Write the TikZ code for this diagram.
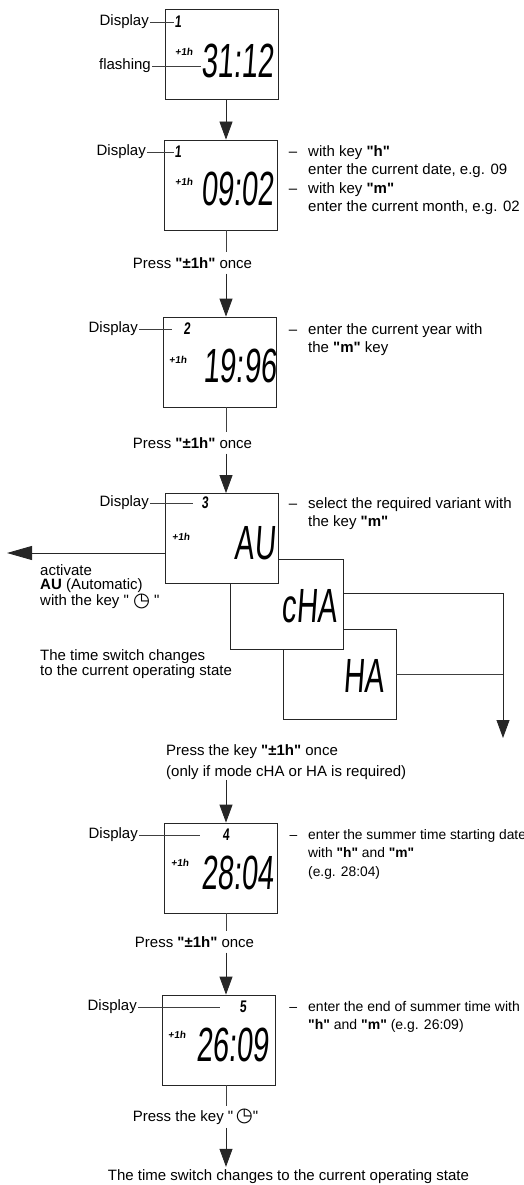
\documentclass[tikz,border=0pt]{standalone}
\usepackage{fontspec}
\usepackage{graphicx}
\setmainfont{Liberation Sans}[Ligatures=TeXOff]
\newfontfamily\lcdfont[FakeSlant=0.12, Ligatures=TeXOff]{Liberation Sans}
\newfontfamily\symfont{DejaVu Sans}
\usetikzlibrary{arrows.meta, positioning, calc}
\newcommand{\lcdbig}[1]{{\lcdfont\fontsize{30}{30}\selectfont\scalebox{0.97}[1.6]{#1}}}
\newcommand{\lcdnum}[1]{{\lcdfont\bfseries\fontsize{12}{12}\selectfont\scalebox{1}[1.4]{#1}}}
\newcommand{\lcdplus}{{\lcdfont\bfseries\fontsize{10}{10}\selectfont +1h}}
\newcommand{\clock}{{\symfont\bfseries\raisebox{-0.5pt}{\scalebox{1.3}{◷}}}}
\newcommand{\dashitem}{\llap{–\hspace{11pt}}}
\newcommand{\key}[1]{\textbf{"#1"}}

\begin{document}
\begin{tikzpicture}[x=1pt, y=-1pt,
    lcdbox/.style={draw=black!85, line width=0.8pt, fill=white, minimum width=113pt, minimum height=90pt, inner sep=0pt},
    lbl/.style={font=\fontsize{15}{18.5}\selectfont, inner sep=1pt},
    note/.style={lbl, align=left, anchor=north west, inner sep=0pt},
    press/.style={lbl, inner xsep=1pt, inner ysep=5pt},
    digits/.style={inner sep=0pt},
    lead/.style={draw=black!75, line width=0.7pt},
    arr/.style={draw=black!85, line width=0.8pt, -{Triangle[length=18pt, width=13pt]}}]
\useasboundingbox (0,0) rectangle (524,1185);
\coordinate (ax) at (226,0);

% step 1
\node[lcdbox] (box1) at (222,54.5) {};
\node[digits] (n1) at (178,22) {\lcdnum{1}};
\node[lbl, anchor=east] (d1) at (150,22) {Display};
\node[digits] (p1) at (184,52) {\lcdplus};
\node[digits] (t1) at (237.5,60.5) {\lcdbig{31:12}};
\node[lbl, anchor=east] (fl) at (152,66) {flashing};
\draw[lead] (d1.east) -- (n1.west);
\draw[lead] (fl.east) -- (fl.east -| t1.west);

% step 2
\node[lcdbox] (box2) at (221,185) {};
\node[digits] (n2) at (178,152) {\lcdnum{1}};
\node[lbl, anchor=east] (d2) at (147,152) {Display};
\node[digits] (p2) at (184,182) {\lcdplus};
\node[digits] (t2) at (237.5,188.5) {\lcdbig{09:02}};
\node[note] (r2) at (308,145) {\dashitem with key \key{h}\\ enter the current date, e.g. 09\\
  \dashitem with key \key{m}\\ enter the current month, e.g. 02};
\draw[lead] (d2.east) -- (n2.west);
\draw[arr] (box1.south -| ax) -- (box2.north -| ax);
\node[press] (pr1) at (192.5,263) {Press \key{±1h} once};
\draw[lead] (box2.south -| ax) -- (pr1.north -| ax);

% step 3
\node[lcdbox] (box3) at (219.5,362) {};
\node[digits] (n3) at (187,329) {\lcdnum{2}};
\node[lbl, anchor=east] (d3) at (139,329) {Display};
\node[digits] (p3) at (178,360) {\lcdplus};
\node[digits] (t3) at (240,365.5) {\lcdbig{19:96}};
\node[note] (r3) at (308,323) {\dashitem enter the current year with\\ the \key{m} key};
\draw[lead, shorten >=11.6pt] (d3.east) -- (n3.west);
\draw[arr] (pr1.south -| ax) -- (box3.north -| ax);
\node[press] (pr2) at (192.5,443) {Press \key{±1h} once};
\draw[lead] (box3.south -| ax) -- (pr2.north -| ax);

% step 4: variants
\node[lcdbox] (ha) at (339.5,674.5) {};
\node[digits] (tha) at (364,675.5) {\lcdbig{HA}};
\node[lcdbox] (cha) at (286.5,604) {};
\node[digits] (tcha) at (309,606.5) {\lcdbig{cHA}};
\node[lcdbox] (box4) at (222,538.5) {};
\node[digits] (n4) at (205,503) {\lcdnum{3}};
\node[lbl, anchor=east] (d4) at (150,503) {Display};
\node[digits] (p4) at (181,537) {\lcdplus};
\node[digits] (t4) at (255,543.5) {\lcdbig{AU}};
\node[note] (r4) at (308,497) {\dashitem select the required variant with\\ the key \key{m}};
\draw[lead, shorten >=8.6pt] (d4.east) -- (n4.west);
\draw[arr] (pr2.south -| ax) -- (box4.north -| ax);
\coordinate (auout) at (7,553);
\draw[arr, -{Triangle[length=25pt, width=14pt]}] ([yshift=-14.5pt]box4.west) -- (auout);
\node[note, font=\fontsize{15}{14.5}\selectfont] (act) at (40,564) {activate\\ \textbf{AU} (Automatic)\\ with the key " \clock{} "};
\node[note, font=\fontsize{15}{15}\selectfont] (ts1) at (40,649) {The time switch changes\\ to the current operating state};
\coordinate (sel) at (503,738);
\draw[arr] ([yshift=11pt]cha.east) -| (sel);
\draw[lead] (ha.east) -- (ha.east -| sel);
\node[note, font=\fontsize{15}{21.5}\selectfont] (pr3) at (166,744) {Press the key \key{±1h} once\\ (only if mode cHA or HA is required)};

% step 5
\node[lcdbox] (box5) at (220.5,868) {};
\node[digits] (n5) at (226,835) {\lcdnum{4}};
\node[lbl, anchor=east] (d5) at (139,835) {Display};
\node[digits] (p5) at (180,863) {\lcdplus};
\node[digits] (t5) at (237.5,872.5) {\lcdbig{28:04}};
\node[note, font=\fontsize{13.8}{18.5}\selectfont] (r5) at (308,829) {\dashitem enter the summer time starting date\\ with \key{h} and \key{m}\\ (e.g. 28:04)};
\draw[lead, shorten >=22.6pt] (d5.east) -- (n5.west);
\draw[arr] (pr3.south -| ax) -- (box5.north -| ax);
\node[press] (pr4) at (194.5,942) {Press \key{±1h} once};
\draw[lead] (box5.south -| ax) -- (pr4.north -| ax);

% step 6
\node[lcdbox] (box6) at (218.5,1040) {};
\node[digits] (n6) at (243,1007) {\lcdnum{5}};
\node[lbl, anchor=east] (d6) at (138,1007) {Display};
\node[digits] (p6) at (177,1035) {\lcdplus};
\node[digits] (t6) at (232.5,1044.5) {\lcdbig{26:09}};
\node[note, font=\fontsize{14}{18}\selectfont] (r6) at (308,1001) {\dashitem enter the end of summer time with\\ \key{h} and \key{m} (e.g. 26:09)};
\draw[lead, shorten >=19.6pt] (d6.east) -- (n6.west);
\draw[arr] (pr4.south -| ax) -- (box6.north -| ax);
\node[press, inner ysep=3pt] (pr5) at (195.5,1117) {Press the key "\,\clock"};
\draw[lead] (box6.south -| ax) -- (pr5.north -| ax);
\node[press, inner ysep=3pt] (fin) at (288.5,1177) {The time switch changes to the current operating state};
\draw[arr] (pr5.south -| ax) -- (fin.north -| ax);
\end{tikzpicture}
\end{document}
